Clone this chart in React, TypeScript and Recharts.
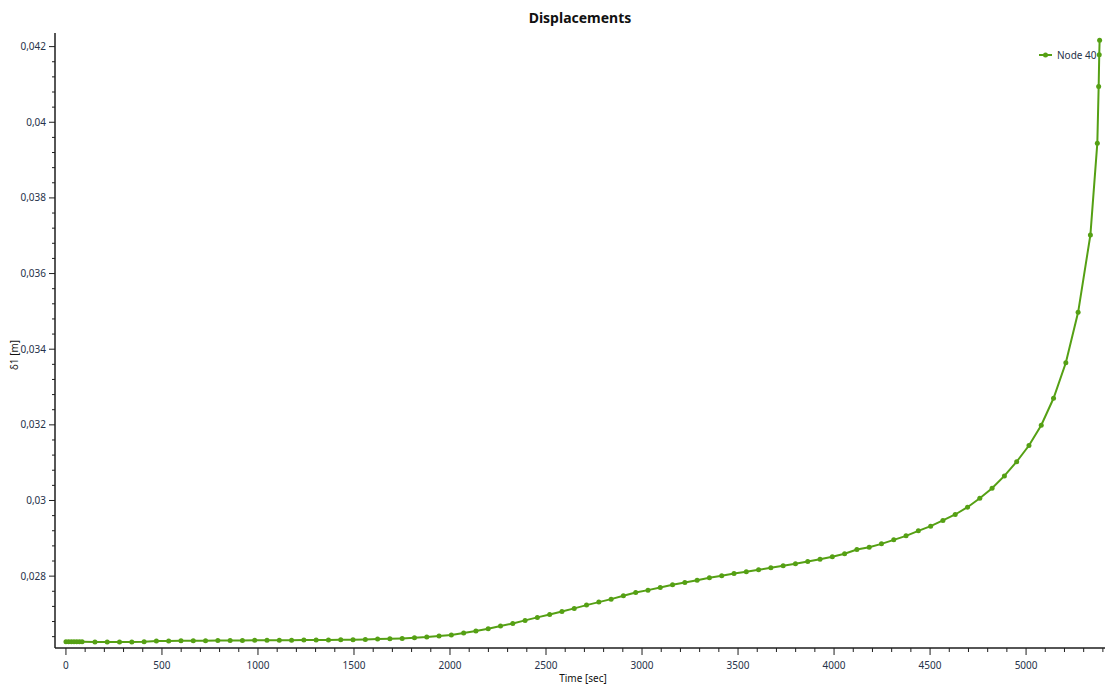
import React from "react";
import { Line, LineChart, XAxis, YAxis } from "recharts";

// Time steps [sec] (dense start, ~64 s steps, then the failure tail)
const TIMES = [
  0, 14, 28, 42, 56, 70, 84,
  151, 215, 279, 343, 407, 471, 535, 599, 663, 727,
  791, 855, 919, 983, 1047, 1111, 1175, 1239, 1303, 1367,
  1431, 1495, 1559, 1623, 1687, 1751, 1815, 1879, 1943, 2007,
  2071, 2135, 2199, 2263, 2327, 2391, 2455, 2519, 2583, 2647,
  2711, 2775, 2839, 2903, 2967, 3031, 3095, 3159, 3223, 3287,
  3351, 3415, 3479, 3543, 3607, 3671, 3735, 3799, 3863, 3927,
  3991, 4055, 4119, 4183, 4247, 4311, 4375, 4439, 4503, 4567,
  4631, 4695, 4759, 4823, 4887, 4951, 5015, 5079, 5143, 5207,
  5271, 5335,
  5371, 5378, 5381, 5383,
];

// δ1 [m] of Node 40
const NODE_40 = [
  0.026264, 0.026264, 0.026264, 0.026264, 0.026264, 0.026264, 0.026264,
  0.026256, 0.026256, 0.026256, 0.026256, 0.026264, 0.026283, 0.026283, 0.026291, 0.026291, 0.026291,
  0.026301, 0.026301, 0.026301, 0.026305, 0.026305, 0.026308, 0.026308, 0.02631, 0.02631, 0.026312,
  0.026315, 0.02632, 0.026328, 0.026336, 0.026343, 0.026354, 0.02637, 0.026388, 0.026415, 0.026441,
  0.026494, 0.026547, 0.026608, 0.026679, 0.02675, 0.02683, 0.026909, 0.026988, 0.027067, 0.027147,
  0.027234, 0.027313, 0.027392, 0.02748, 0.027569, 0.02763, 0.027701, 0.02777, 0.027834, 0.027894,
  0.027955, 0.028008, 0.028071, 0.028114, 0.028166, 0.028219, 0.028272, 0.028325, 0.028388, 0.028449,
  0.028515, 0.028594, 0.028705, 0.028766, 0.028853, 0.028959, 0.029065, 0.029197, 0.029321, 0.029472,
  0.02963, 0.029823, 0.030061, 0.030325, 0.03065, 0.031025, 0.031453, 0.031989, 0.032703, 0.033641,
  0.034975, 0.037022,
  0.039448, 0.040946, 0.041783, 0.042169,
];

const X_TICKS = [
  0, 100, 200, 300, 400, 500, 600, 700, 800, 900,
  1000, 1100, 1200, 1300, 1400, 1500, 1600, 1700, 1800, 1900,
  2000, 2100, 2200, 2300, 2400, 2500, 2600, 2700, 2800, 2900,
  3000, 3100, 3200, 3300, 3400, 3500, 3600, 3700, 3800, 3900,
  4000, 4100, 4200, 4300, 4400, 4500, 4600, 4700, 4800, 4900,
  5000, 5100, 5200, 5300, 5400,
];

const Y_TICKS = [
  0.0264, 0.0268, 0.0272, 0.0276, 0.028, 0.0284, 0.0288, 0.0292, 0.0296, 0.03,
  0.0304, 0.0308, 0.0312, 0.0316, 0.032, 0.0324, 0.0328, 0.0332, 0.0336, 0.034,
  0.0344, 0.0348, 0.0352, 0.0356, 0.036, 0.0364, 0.0368, 0.0372, 0.0376, 0.038,
  0.0384, 0.0388, 0.0392, 0.0396, 0.04, 0.0404, 0.0408, 0.0412, 0.0416, 0.042,
];

const data = TIMES.map((t, i) => ({ t, node40: NODE_40[i] }));

const GREEN = "#55a014";
const AXIS = "#1e1e1e";
const TICK_TEXT = "#26324a";
const FONT = "'Noto Sans', 'Open Sans', sans-serif";

const isMajorX = (v: number) => v % 500 === 0;
const isMajorY = (v: number) => Math.abs(v * 500 - Math.round(v * 500)) < 1e-6;
const fmtY = (v: number) => String(+v.toFixed(3)).replace(".", ",");

function XTick(props: any) {
  const { x, y, payload } = props;
  const major = isMajorX(payload.value);
  return (
    <g>
      <line x1={x} x2={x} y1={y} y2={y + (major ? 7 : 4)} stroke={AXIS} />
      {major && (
        <text x={x} y={y + 21} textAnchor="middle" fontSize={10} fill={TICK_TEXT} fontFamily={FONT}>
          {payload.value}
        </text>
      )}
    </g>
  );
}

function YTick(props: any) {
  const { x, y, payload } = props;
  const major = isMajorY(payload.value);
  return (
    <g>
      <line x1={x - (major ? 6 : 3)} x2={x} y1={y} y2={y} stroke={AXIS} />
      {major && (
        <text x={x - 9} y={y} dy="0.35em" textAnchor="end" fontSize={10} fill={TICK_TEXT} fontFamily={FONT}>
          {fmtY(payload.value)}
        </text>
      )}
    </g>
  );
}

function LegendBox() {
  return (
    <div
      style={{
        position: "absolute",
        top: 48,
        left: 1038,
        display: "flex",
        alignItems: "center",
        fontFamily: FONT,
        fontSize: 10,
        color: TICK_TEXT,
        whiteSpace: "nowrap",
      }}
    >
      <svg width={18} height={8} style={{ marginRight: 1 }}>
        <line x1={1} x2={14} y1={4} y2={4} stroke={GREEN} strokeWidth={2} />
        <circle cx={7.5} cy={4} r={2.5} fill={GREEN} />
      </svg>
      <span>Node 40</span>
    </div>
  );
}

export default function App() {
  return (
    <div style={{ position: "absolute", left: 0, top: 0, width: 1105, height: 687, background: "#fff" }}>
      <LineChart width={1105} height={687} data={data} margin={{ top: 33, right: 0, left: 0, bottom: 0 }}>
        <XAxis
          dataKey="t"
          type="number"
          domain={[-57, 5411]}
          allowDataOverflow
          ticks={X_TICKS}
          interval={0}
          tickLine={false}
          tickSize={0}
          tickMargin={0}
          tick={<XTick />}
          height={39}
          axisLine={{ stroke: AXIS, strokeWidth: 1.5 }}
        />
        <XAxis
          xAxisId="top"
          orientation="top"
          dataKey="t"
          type="number"
          domain={[-57, 5411]}
          allowDataOverflow
          height={0}
          tick={false}
          tickLine={false}
          axisLine={{ stroke: AXIS, strokeWidth: 1.5 }}
        />
        <YAxis
          type="number"
          domain={[0.0261, 0.04236]}
          allowDataOverflow
          ticks={Y_TICKS}
          interval={0}
          tickLine={false}
          tickSize={0}
          tickMargin={0}
          tick={<YTick />}
          width={55}
          axisLine={{ stroke: AXIS, strokeWidth: 1.5 }}
        />
        <Line
          type="linear"
          dataKey="node40"
          name="Node 40"
          stroke={GREEN}
          strokeWidth={2}
          dot={{ r: 2.5, fill: GREEN, stroke: "none" }}
          activeDot={false}
          isAnimationActive={false}
        />
      </LineChart>
      <LegendBox />
      <div
        style={{
          position: "absolute",
          top: 8,
          left: 0,
          width: 1160,
          textAlign: "center",
          fontFamily: FONT,
          fontWeight: 700,
          fontSize: 14,
          color: "#111",
        }}
      >
        Displacements
      </div>
      <div
        style={{
          position: "absolute",
          top: 671,
          left: 0,
          width: 1166,
          textAlign: "center",
          fontFamily: FONT,
          fontSize: 10,
          color: "#111",
        }}
      >
        Time [sec]
      </div>
      <div
        style={{
          position: "absolute",
          left: 14,
          top: 355,
          transform: "translate(-50%, -50%) rotate(-90deg)",
          whiteSpace: "nowrap",
          fontFamily: FONT,
          fontSize: 10,
          color: "#111",
        }}
      >
        δ1 [m]
      </div>
    </div>
  );
}
